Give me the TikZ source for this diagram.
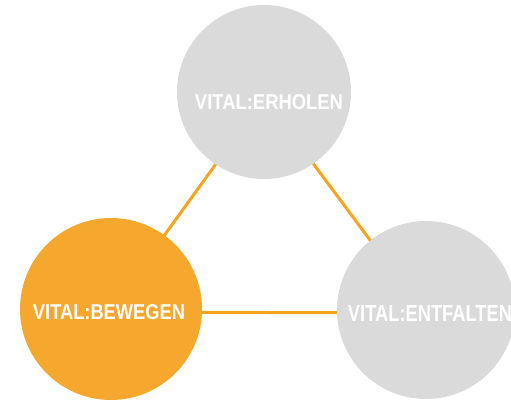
\documentclass[tikz,border=0pt]{standalone}
\usepackage{fontspec}
\setmainfont{Liberation Sans}
\usetikzlibrary{backgrounds}
\definecolor{vorange}{HTML}{F5A82D}
\definecolor{vgray}{HTML}{DADADA}
\definecolor{vline}{HTML}{F4A41E}
\begin{document}
\begin{tikzpicture}[x=1pt,y=-1pt,
  blob/.style={circle,inner sep=0pt,minimum size=#1},
  lbl/.style={inner sep=0pt,text=white,font=\bfseries},
  conn/.style={draw=vline,line width=3pt}]
\useasboundingbox (0,0) rectangle (511,404);
\node[blob=174pt,fill=vgray] (erholen) at (264,92) {};
\node[blob=182pt,fill=vorange] (bewegen) at (111,309) {};
\node[blob=178pt,fill=vgray] (entfalten) at (426,310) {};
\node[lbl] (terholen) at (269,102) {\resizebox{148pt}{15pt}{VITAL:ERHOLEN}};
\node[lbl] (tbewegen) at (109,312) {\resizebox{152pt}{15pt}{VITAL:BEWEGEN}};
\node[lbl] (tentfalten) at (430,313.5) {\resizebox{164pt}{16pt}{VITAL:ENTFALTEN}};
\begin{scope}[on background layer]
\draw[conn] ([xshift=4pt]erholen.center) -- (bewegen.center);
\draw[conn] ([xshift=-4pt]erholen.center) -- ([xshift=-4pt]entfalten.center);
\draw[conn] ([yshift=-3pt]bewegen.center) -- ([yshift=-3pt]entfalten.center);
\end{scope}
\end{tikzpicture}
\end{document}
